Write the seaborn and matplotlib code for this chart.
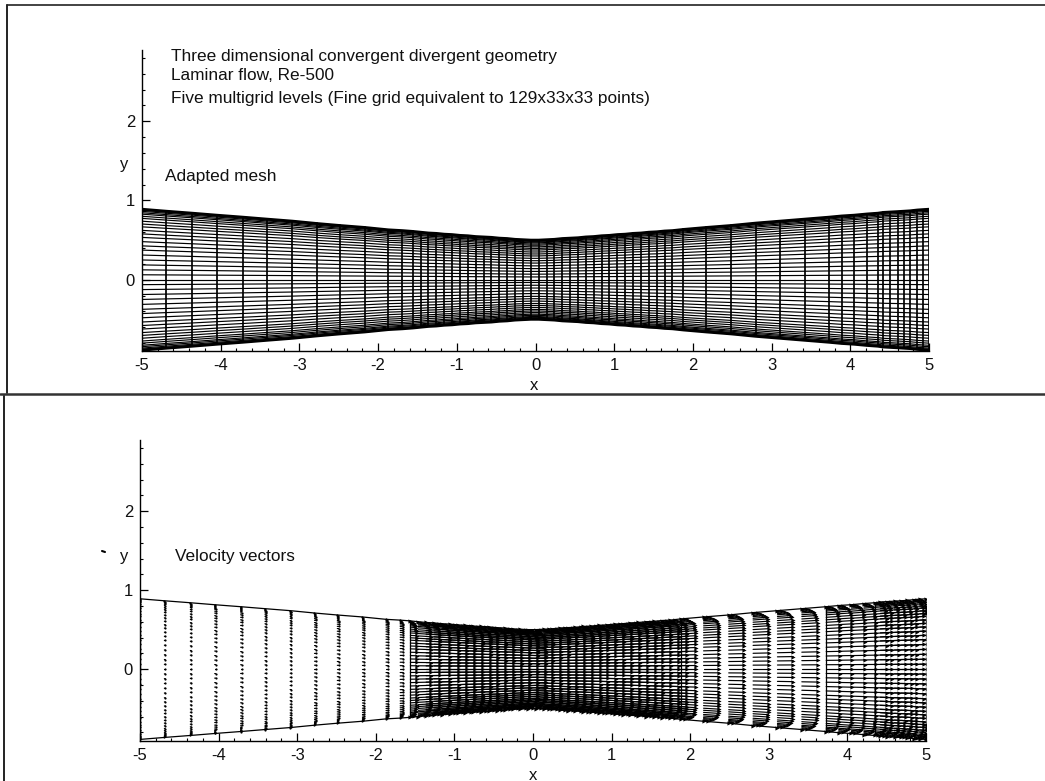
import numpy as np
import pandas as pd
import seaborn as sns
import matplotlib
matplotlib.use("Agg")
import matplotlib.pyplot as plt
from matplotlib.lines import Line2D

# ---------- data ----------
stations = [-5, -4.69, -4.36, -4.05, -3.72, -3.41, -3.09, -2.78, -2.49, -2.17, -1.87, -1.69, -1.56,
            -1.46, -1.36, -1.26, -1.16, -1.06, -.96, -.86, -.76, -.66, -.56, -.46, -.36, -.26, -.16, -.06,
            .04, .14, .24, .34, .44, .54, .64, .74, .84, .94, 1.04, 1.14, 1.24, 1.34, 1.44, 1.54, 1.64, 1.74, 1.88,
            2.17, 2.49, 2.80, 3.11, 3.42, 3.73, 3.89, 4.05, 4.21, 4.35, 4.42, 4.51, 4.60, 4.68, 4.76, 4.85, 4.92, 5]
half_height = [.89, .865, .84, .815, .79, .765, .74, .71, .685, .66, .63, .62, .61,
               .60, .59, .585, .575, .57, .56, .555, .545, .54, .535, .525, .52, .51, .505, .50,
               .50, .505, .51, .52, .525, .53, .54, .545, .555, .56, .57, .575, .585, .59, .60, .605, .615, .62, .635,
               .66, .685, .715, .74, .765, .79, .805, .815, .83, .84, .85, .855, .86, .865, .87, .88, .885, .89]
wall_slope = [-.08] * 28 + [.08] * 37
arrow_length = [.0, .012, .012, .014, .014, .016, .016, .018, .02, .02, .03, .04, .08,
                .16, .18, .2, .22, .22, .22, .22, .22, .22, .22, .22, .22, .22, .22, .22,
                .22, .22, .22, .22, .22, .22, .22, .22, .22, .22, .22, .22, .22, .22, .22, .22, .22, .22, .19,
                .2, .2, .2, .2, .2, .17, .17, .17, .15, .15, .15, .15, .14, .14, .13, .13, .1, .08]
eta_levels = [-1, -.985, -.97, -.95, -.93, -.9, -.87, -.83, -.79, -.75, -.7, -.65, -.6, -.54, -.48, -.42, -.35, -.28,
              -.21, -.14, -.07, 0, .07, .14, .21, .28, .35, .42, .48, .54, .6, .65, .7, .75, .79, .83, .87, .9, .93,
              .95, .97, .985, 1]
profile = [0, .3, .5, .65, .76, .86, .92, .96, .98, 1, 1, 1, 1, 1, 1, 1, 1, 1,
           1, 1, 1, 1, 1, 1, 1, 1, 1, 1, 1, 1, 1, 1, 1, 1, .98, .96, .92, .86, .76,
           .65, .5, .3, 0]
block_edges = [-5, -1.56, 1.88, 3.73, 4.35, 5]
x_ticks = [-5, -4, -3, -2, -1, 0, 1, 2, 3, 4, 5]
x_tick_labels = ["-5", "-4", "-3", "-2", "-1", "0", "1", "2", "3", "4", "5"]
y_ticks = [0, 1, 2]
y_tick_labels = ["0", "1", "2"]
title_lines = ["Three dimensional convergent divergent geometry",
               "Laminar flow, Re-500",
               "Five multigrid levels (Fine grid equivalent to 129x33x33 points)"]
panel_labels = ["Adapted mesh", "Velocity vectors"]

# ---------- style ----------
sns.set_theme(style="white")
plt.rcParams["font.family"] = ["Liberation Sans", "DejaVu Sans"]
W, H = 1045, 781
fig = plt.figure(figsize=(W / 100, H / 100), dpi=100, facecolor="white")


def axes_px(x0, x1, ytop, ybot):
    return fig.add_axes([x0 / W, 1 - ybot / H, (x1 - x0) / W, (ybot - ytop) / H])


def style_axes(ax, ymin):
    ax.set_xlim(-5, 5)
    ax.set_ylim(ymin, 2.9)
    sns.despine(ax=ax, top=True, right=True)
    for s in ("left", "bottom"):
        ax.spines[s].set_linewidth(1.0)
        ax.spines[s].set_color("black")
    ax.set_xticks(x_ticks)
    ax.set_xticklabels(x_tick_labels)
    ax.set_yticks(y_ticks)
    ax.set_yticklabels(y_tick_labels)
    ax.set_xticks(np.arange(-50, 51, 2) / 10, minor=True)
    ax.set_yticks(np.arange(-8, 29, 2) / 10, minor=True)
    ax.tick_params(axis="both", which="major", direction="in", length=5.5, width=.9, labelsize=12,
                   color="black", labelcolor="#111111", bottom=True, left=True, pad=5)
    ax.tick_params(axis="both", which="minor", direction="in", length=2.5, width=.8,
                   color="black", bottom=True, left=True)
    ax.set_xlabel("")
    ax.set_ylabel("")


st = np.array(stations)
hh = np.array(half_height)
ee = np.array(eta_levels)
pf = np.array(profile)
sl = np.array(wall_slope)
al = np.array(arrow_length)

# ---------- top panel: mesh ----------
ax1 = axes_px(142, 929, 50, 351)
rows = []
for k, e in enumerate(ee):
    for s, h in zip(st, hh):
        rows.append((f"h{k}", s, e * h))
sns.lineplot(data=pd.DataFrame(rows, columns=["u", "x", "y"]), x="x", y="y", units="u", estimator=None,
             sort=False, color="black", lw=0.85, ax=ax1, legend=False)
rows = []
for i, (s, h) in enumerate(zip(st, hh)):
    rows += [(f"v{i}", s, -h), (f"v{i}", s, h)]
sns.lineplot(data=pd.DataFrame(rows, columns=["u", "x", "y"]), x="x", y="y", units="u", estimator=None,
             sort=False, color="black", lw=1.25, ax=ax1, legend=False)
rows = []
for name, sign in (("top", 1), ("bot", -1)):
    for s, h in zip(st, hh):
        rows.append((name, s, sign * h))
sns.lineplot(data=pd.DataFrame(rows, columns=["u", "x", "y"]), x="x", y="y", units="u", estimator=None,
             sort=False, color="black", lw=2.0, ax=ax1, legend=False)
style_axes(ax1, -0.9)

# ---------- bottom panel: velocity vectors ----------
ax2 = axes_px(140, 926, 440, 741)
rows, heads = [], []
for i, (s, h, m, L) in enumerate(zip(st, hh, sl, al)):
    for k, (e, p) in enumerate(zip(ee, pf)):
        dx = L * p
        dy = e * m * dx
        rows += [(f"a{i}_{k}", s, e * h), (f"a{i}_{k}", s + dx, e * h + dy)]
        heads.append((s + dx, e * h + dy, L))
sns.lineplot(data=pd.DataFrame(rows, columns=["u", "x", "y"]), x="x", y="y", units="u", estimator=None,
             sort=False, color="black", lw=0.85, ax=ax2, legend=False)
hd = pd.DataFrame(heads, columns=["x", "y", "L"])
sns.scatterplot(data=hd[hd.L < .05], x="x", y="y", s=2.5, color="black", marker="o", linewidth=0, ax=ax2, legend=False)
sns.scatterplot(data=hd[hd.L >= .05], x="x", y="y", s=9, color="black", marker=">", linewidth=0, ax=ax2, legend=False)
rows = []
for name, sign in (("top", 1), ("bot", -1)):
    for s, h in zip(st, hh):
        rows.append((name, s, sign * h))
for i, b in enumerate(block_edges):
    h = hh[stations.index(b)]
    rows += [(f"b{i}", b, -h), (f"b{i}", b, h)]
sns.lineplot(data=pd.DataFrame(rows, columns=["u", "x", "y"]), x="x", y="y", units="u", estimator=None,
             sort=False, color="black", lw=0.9, ax=ax2, legend=False)
style_axes(ax2, -0.91)


# ---------- text ----------
def px_text(x, y, s, size=12.4, ha="left"):
    fig.text(x / W, 1 - y / H, s, fontsize=size, ha=ha, va="center", color="#111111")


px_text(171, 57, title_lines[0])
px_text(171, 75, title_lines[1])
px_text(171, 98, title_lines[2])
px_text(165, 176, panel_labels[0])
px_text(175, 557, panel_labels[1])
px_text(124, 165, "y", 12, "center")
px_text(124, 556, "y", 12, "center")
px_text(534, 385, "x", 12, "center")
px_text(533, 775, "x", 12, "center")


# ---------- scanned page frame ----------
def frame(x0, y0, x1, y1, lw, c="#222222"):
    fig.add_artist(Line2D([x0 / W, x1 / W], [1 - y0 / H, 1 - y1 / H], color=c, lw=lw))


frame(7, 5, 1045, 5, 1.2)
frame(7, 5, 7, 393, 1.4)
frame(0, 394, 1045, 394, 1.8, "#333333")
frame(4, 396, 4, 781, 1.4)
frame(102, 551, 105, 552, 1.5, "black")

fig.savefig("out.png", dpi=100, facecolor="white")
